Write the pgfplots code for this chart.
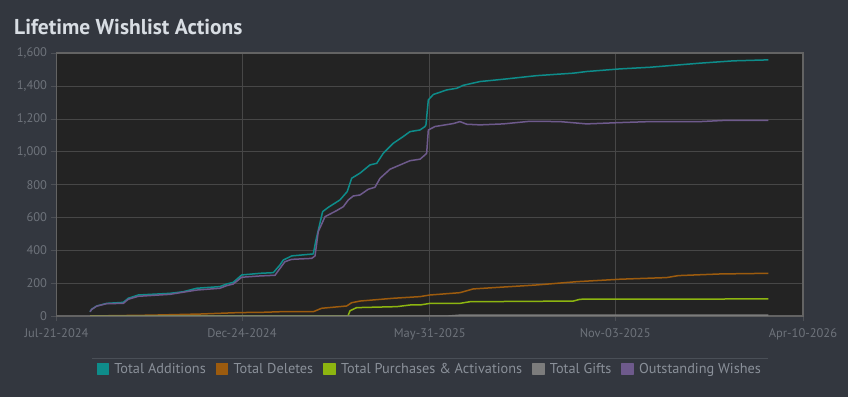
\documentclass[border=0pt]{standalone}
\usepackage{fontspec}
\setmainfont{PT Sans}
\usepackage{pgfplots}
\pgfplotsset{compat=1.18}
\definecolor{outerbg}{HTML}{33373F}
\definecolor{plotbg}{HTML}{232323}
\definecolor{gridc}{HTML}{474747}
\definecolor{tickc}{HTML}{6E737B}
\definecolor{titlec}{HTML}{D8DDE3}
\definecolor{legc}{HTML}{8A9099}
\definecolor{sepc}{HTML}{4A4F57}
\definecolor{cadd}{HTML}{0E8C8A}
\definecolor{cdel}{HTML}{9C5B0E}
\definecolor{cpur}{HTML}{8DB510}
\definecolor{cgift}{HTML}{7C7C7C}
\definecolor{cout}{HTML}{6E5A8C}
\begin{document}
\begin{tikzpicture}
\fill[outerbg] (0,0) rectangle (848bp,397bp);
\node[anchor=base west, inner sep=0, text=titlec] at (14bp,362bp) {\fontsize{21.5bp}{24bp}\selectfont\bfseries Lifetime Wishlist Actions};
\draw[sepc, line width=0.8bp] (92bp,39bp) -- (768bp,39bp);
\begin{axis}[
  at={(56.5bp,81bp)}, anchor=south west,
  scale only axis, width=746.5bp, height=262.7bp,
  xmin=0, xmax=628, ymin=0, ymax=1600,
  axis background/.style={fill=plotbg},
  xtick={0,156,314,470,628},
  xticklabels={Jul-21-2024,Dec-24-2024,May-31-2025,Nov-03-2025,Apr-10-2026},
  ytick={0,200,400,600,800,1000,1200,1400,1600},
  /pgf/number format/assume math mode=true,
  /pgf/number format/.cd, 1000 sep={,}, /pgfplots/.cd,
  grid=major, major grid style={draw=gridc, line width=0.8bp},
  axis line style={draw=gridc!85!white, line width=1.6bp},
  xtick pos=bottom, ytick pos=left,
  tick align=outside, major tick length=5bp,
  tick style={draw=tickc!70!black, line width=0.8bp},
  tick label style={text=tickc, font=\fontsize{12.5bp}{14bp}\selectfont},
  xticklabel style={yshift=-4bp},
  yticklabel style={xshift=-1bp},
  legend columns=5,
  legend style={at={(0.5,-0.2017)}, anchor=center, fill=none, draw=none,
    text=legc, font=\fontsize{14.3bp}{16bp}\selectfont,
    /tikz/every even column/.append style={column sep=8bp}},
  legend image code/.code={\fill[#1] (0bp,-5.5bp) rectangle (11bp,5.5bp); \path[draw=none,fill=none] (0bp,0bp) rectangle (15bp,0.1bp);},
  every axis plot/.append style={line width=1.5bp, line join=round},
]
\addplot[color=cadd] coordinates {
(28.2,26) (29.6,41) (33.8,61) (42.2,77) (56.2,83) (60.4,108) (68.8,128) (95.5,138)
(106.7,148) (117.9,169) (137.5,179) (143.2,195) (148.7,205) (155.8,250) (171.2,260)
(182.4,264) (188,311) (190.8,341) (197.9,366) (216,378) (218.3,463) (223.9,636)
(228.7,662) (238.5,707) (244.6,758) (248.3,839) (255.3,870) (263.7,920) (269.4,930)
(274.9,991) (283.3,1052) (291.7,1093) (297.4,1123) (305.8,1133) (310,1154) (310.8,1164)
(312.8,1316) (317,1349) (328.3,1377) (336.7,1387) (342.2,1405) (356.3,1428) (375.9,1442)
(404,1464) (434.8,1479) (446,1489) (474,1505) (499.3,1515) (541.5,1540) (569.4,1554)
(598.8,1560)
};
\addlegendentry{Total Additions}
\addplot[color=cdel] coordinates {
(28.2,0) (78.7,5) (120.7,12) (154.4,21) (171.2,22) (188,26) (216,26) (223,47)
(244.1,61) (248.3,81) (255.3,91) (283.3,108) (305.8,118) (314.2,128) (339.4,142)
(350.6,165) (404,189) (437.6,209) (474,224) (513.3,234) (523.1,246) (558.1,256)
(598.8,260)
};
\addlegendentry{Total Deletes}
\addplot[color=cpur] coordinates {
(28.2,0) (245.5,0) (245.5,6) (246.9,32) (252.5,51) (286.2,57) (297.4,67) (305.8,67)
(314.2,77) (339.4,77) (347.8,87) (434.8,91) (440.5,102) (598.8,104)
};
\addlegendentry{Total Purchases \& Activations}
\addplot[color=cgift] coordinates {
(28.2,0) (330,0) (339,5) (598.8,5)
};
\addlegendentry{Total Gifts}
\addplot[color=cout] coordinates {
(28.2,26) (29.6,40) (33.8,60) (42.2,75) (56.2,77) (60.4,102) (68.8,120) (95.5,132)
(117.9,158) (137.5,169) (143.2,185) (148.7,195) (155.8,236) (171.2,244) (183.8,248)
(188,290) (192.2,331) (197.9,345) (214.7,351) (217.5,366) (220.2,514) (225.9,605)
(235.7,642) (241.3,666) (245.5,707) (249.7,731) (255.3,737) (262.3,772) (267.9,784)
(272.2,839) (280.6,894) (289,920) (297.4,946) (305.8,955) (310,981) (311.4,991)
(312.8,1133) (318.4,1154) (333.8,1172) (339.4,1184) (345.1,1168) (356.3,1164)
(375.9,1170) (398.3,1186) (423.6,1184) (446,1170) (474,1178) (499.3,1184) (541.5,1184)
(563.8,1192) (598.8,1192)
};
\addlegendentry{Outstanding Wishes}
\end{axis}
\end{tikzpicture}
\end{document}
